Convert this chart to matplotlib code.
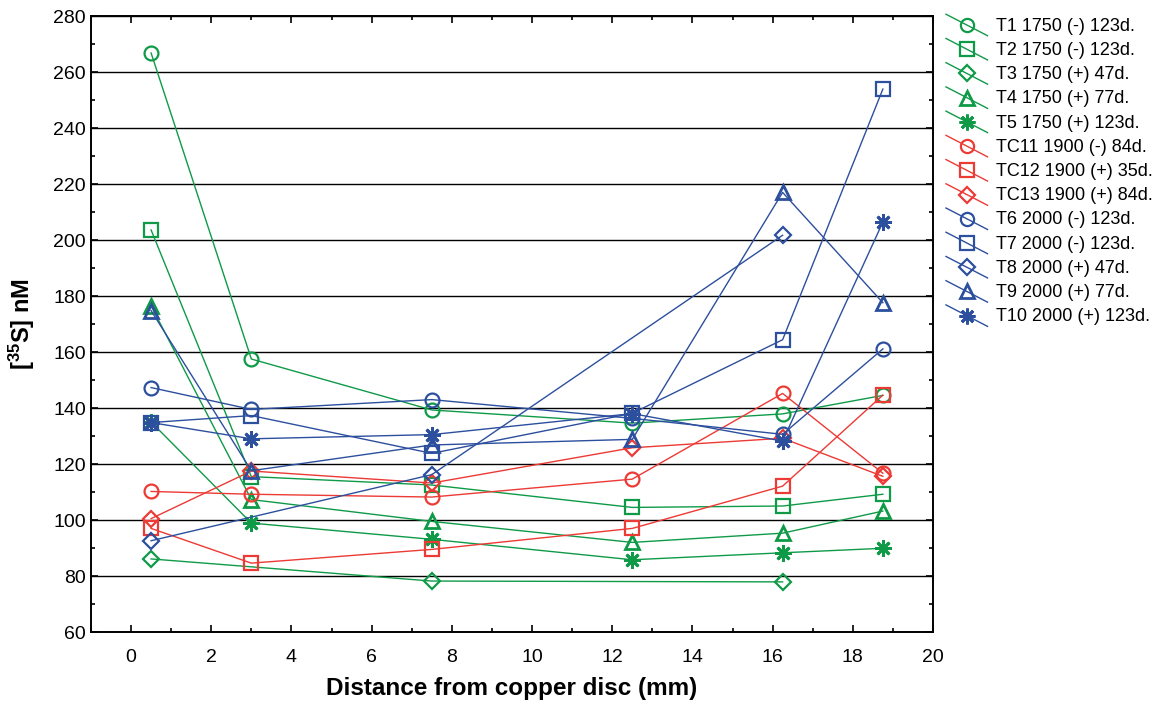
import numpy as np
import matplotlib
matplotlib.use("Agg")
import matplotlib.pyplot as plt
from matplotlib.lines import Line2D
from matplotlib.legend_handler import HandlerLine2D
from matplotlib.ticker import MultipleLocator

plt.rcParams['font.family'] = ['Liberation Sans', 'DejaVu Sans']
plt.rcParams['mathtext.fontset'] = 'custom'
plt.rcParams['mathtext.rm'] = 'Liberation Sans'
plt.rcParams['mathtext.bf'] = 'Liberation Sans:bold'

# distances from the copper disc (mm)
x_all = [0.5, 3, 7.5, 12.5, 16.25, 18.75]
x_47d = [0.5, 7.5, 16.25]

# [35S] nM, one list per sample
t1 = [266.8, 157.5, 139.3, 134.6, 137.9, 144.5]
t2 = [203.6, 115.5, 112.5, 104.5, 105.0, 109.2]
t3 = [86.1, 78.2, 77.9]
t4 = [176.5, 107.3, 99.5, 92.0, 95.3, 103.2]
t5 = [135.0, 98.9, 93.1, 85.8, 88.3, 89.9]
tc11 = [110.2, 109.2, 108.2, 114.6, 145.2, 116.7]
tc12 = [97.0, 84.6, 89.5, 97.0, 112.1, 144.6]
tc13 = [100.5, 117.5, 113.2, 125.8, 129.2, 115.6]
t6 = [147.3, 139.5, 143.0, 136.3, 130.6, 161.1]
t7 = [134.8, 137.3, 123.8, 138.1, 164.4, 253.9]
t8 = [92.6, 116.2, 201.7]
t9 = [174.8, 117.6, 126.8, 128.8, 217.0, 177.6]
t10 = [134.8, 129.0, 130.5, 138.0, 128.2, 206.4]

labels = ["T1 1750 (-) 123d.", "T2 1750 (-) 123d.", "T3 1750 (+) 47d.",
          "T4 1750 (+) 77d.", "T5 1750 (+) 123d.", "TC11 1900 (-) 84d.",
          "TC12 1900 (+) 35d.", "TC13 1900 (+) 84d.", "T6 2000 (-) 123d.",
          "T7 2000 (-) 123d.", "T8 2000 (+) 47d.", "T9 2000 (+) 77d.",
          "T10 2000 (+) 123d."]

green = '#0f9a48'
red = '#ec3a35'
blue = '#2c4f9e'
star = (8, 2, 0)

series = [
    (x_all, t1, green, 'o'),
    (x_all, t2, green, 's'),
    (x_47d, t3, green, 'D'),
    (x_all, t4, green, '^'),
    (x_all, t5, green, star),
    (x_all, tc11, red, 'o'),
    (x_all, tc12, red, 's'),
    (x_all, tc13, red, 'D'),
    (x_all, t6, blue, 'o'),
    (x_all, t7, blue, 's'),
    (x_47d, t8, blue, 'D'),
    (x_all, t9, blue, '^'),
    (x_all, t10, blue, star),
]


class DiagHandler(HandlerLine2D):
    # legend key: line drawn diagonally through the marker
    def create_artists(self, legend, orig_handle, xdescent, ydescent,
                       width, height, fontsize, trans):
        x0, y0 = -xdescent, -ydescent
        line = Line2D([x0, x0 + width], [y0 + height * 1.3, y0 - height * 0.4])
        self.update_prop(line, orig_handle, legend)
        line.set_marker('')
        mk = Line2D([x0 + width / 2], [y0 + height * 0.45])
        self.update_prop(mk, orig_handle, legend)
        mk.set_linestyle('')
        mk.set_markersize(orig_handle.get_markersize() * 0.95)
        line.set_transform(trans)
        mk.set_transform(trans)
        return [line, mk]


fig = plt.figure(figsize=(11.6, 7.02), dpi=100)
ax = fig.add_axes([0.0784, 0.0997, 0.7259, 0.8775])

handles = []
for xs, ys, c, m in series:
    ms = 10 if m not in ('D', star) else (8.5 if m == 'D' else 12)
    mew = 2.0 if m in (star, '^') else 1.6
    h, = ax.plot(xs, ys, color=c, lw=1.0, marker=m, ms=ms, mfc='none',
                 mec=c, mew=mew)
    handles.append(h)

ax.set_xlim(-1, 20)
ax.set_ylim(60, 280)
ax.xaxis.set_major_locator(MultipleLocator(2))
ax.xaxis.set_minor_locator(MultipleLocator(1))
ax.yaxis.set_major_locator(MultipleLocator(20))
ax.yaxis.set_minor_locator(MultipleLocator(10))
ax.tick_params(which='both', direction='in', top=True, right=True,
               labelsize=14, width=1.2)
ax.tick_params(which='major', length=5)
ax.tick_params(which='minor', length=3)
ax.tick_params(axis='x', pad=12)
ax.yaxis.grid(True, which='major', color='black', lw=1.0)
ax.set_axisbelow(True)
for sp in ax.spines.values():
    sp.set_linewidth(1.4)

ax.set_xlabel('Distance from copper disc (mm)', fontsize=17.5, fontweight='bold',
              labelpad=8)
ax.set_ylabel(r'[$\mathbf{^{35}}$S] nM', fontsize=17, fontweight='bold',
              labelpad=12)

fig.legend(handles, labels, loc='upper left', bbox_to_anchor=(0.8015, 0.998),
           frameon=False, fontsize=13, handlelength=2.3, handletextpad=0.45,
           labelspacing=0.40,
           handler_map={Line2D: DiagHandler()})

fig.savefig('out.png', dpi=100)
